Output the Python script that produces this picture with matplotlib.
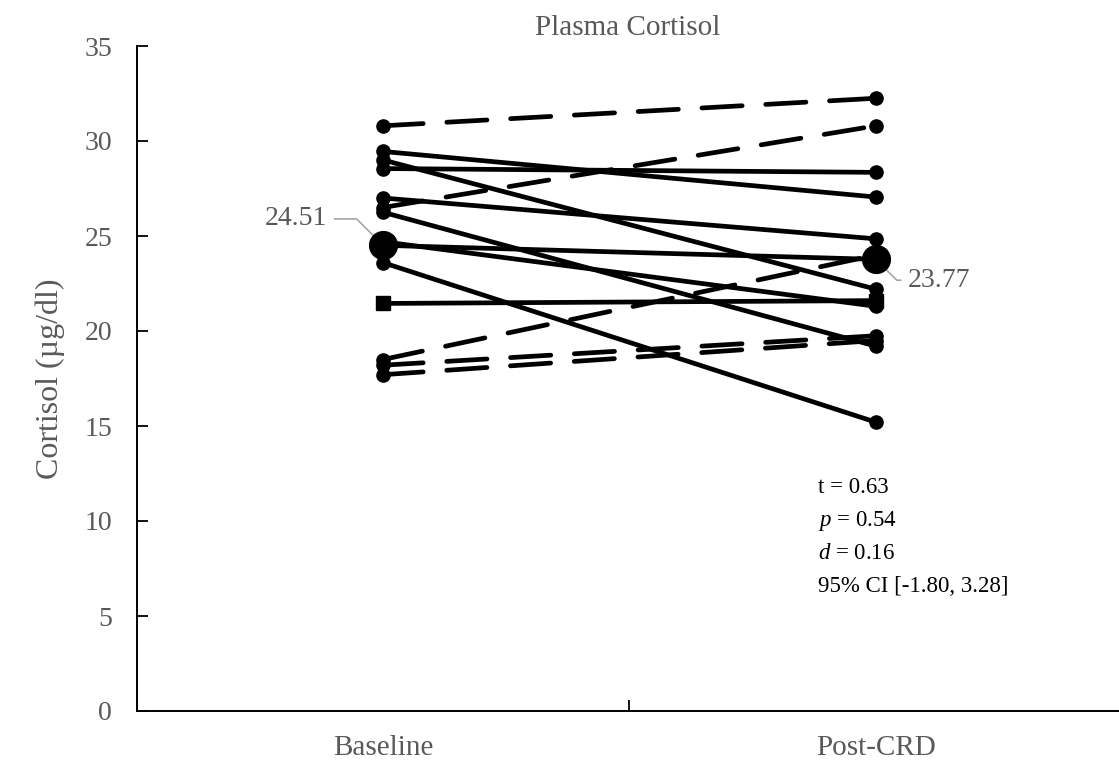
import matplotlib
matplotlib.use('Agg')
import matplotlib.pyplot as plt

# --- data ---
conditions = ['Baseline', 'Post-CRD']
baseline = [30.8, 26.5, 29.45, 28.55, 29.0, 27.0, 26.25, 24.7, 23.6, 21.45, 18.5, 18.2, 17.7]
post_crd = [32.25, 30.8, 27.05, 28.35, 22.2, 24.85, 19.2, 21.3, 15.2, 21.6, 24.0, 19.75, 19.5]
dashed = [True, True, False, False, False, False, False, False, False, False, True, True, True]
square = [False] * 9 + [True] + [False] * 3
group_means = [24.51, 23.77]
stats_lines = ['t = 0.63', r'$\it{p}$ = 0.54', r'$\it{d}$ = 0.16', '95% CI [-1.80, 3.28]']
y_ticks = [0, 5, 10, 15, 20, 25, 30, 35]

plt.rcParams['font.family'] = ['Liberation Serif', 'DejaVu Serif']
plt.rcParams['mathtext.fontset'] = 'custom'
plt.rcParams['mathtext.it'] = 'Liberation Serif:italic'
plt.rcParams['mathtext.rm'] = 'Liberation Serif'
plt.rcParams['lines.scale_dashes'] = False

GREY = '#595959'

fig = plt.figure(figsize=(11.19, 7.61), dpi=100)
ax = fig.add_axes([137 / 1119, 1 - 711 / 761, (1119 - 137) / 1119, (711 - 46) / 761])

x = [0, 1]
for b, p, d, sq in zip(baseline, post_crd, dashed, square):
    ax.plot(x, [b, p], color='black', lw=3.4,
            linestyle=(0, (29, 17)) if d else '-',
            dash_capstyle='round', solid_capstyle='round',
            marker='s' if sq else 'o', markersize=10 if sq else 9.5,
            zorder=3)

ax.plot(x, group_means, color='black', lw=3.4, marker='o', markersize=20,
        solid_capstyle='round', zorder=4)

# mean labels with leader lines
ax.annotate(f'{group_means[0]:.2f}', xy=(0, group_means[0]), xytext=(-40, 19),
            textcoords='offset points', ha='right', va='center', fontsize=20,
            color=GREY,
            arrowprops=dict(arrowstyle='-', color='#A6A6A6', lw=1.2,
                            shrinkA=3, shrinkB=0,
                            connectionstyle='angle,angleA=0,angleB=135,rad=0'))
ax.annotate(f'{group_means[1]:.2f}', xy=(1, group_means[1]), xytext=(23, -15),
            textcoords='offset points', ha='left', va='center', fontsize=20,
            color=GREY,
            arrowprops=dict(arrowstyle='-', color='#A6A6A6', lw=1.2,
                            shrinkA=3, shrinkB=0,
                            connectionstyle='angle,angleA=0,angleB=-45,rad=0'))

for i, line in enumerate(stats_lines):
    ax.text(0.882, 11.74 - i * 1.737, line, fontsize=16.5, color='black',
            ha='left', va='center')

ax.set_xlim(-0.499, 1.493)
ax.set_ylim(0, 35)
ax.set_yticks(y_ticks)
ax.tick_params(axis='y', direction='in', length=8, width=1.3, color='black',
               labelcolor=GREY, labelsize=20, pad=18)
ax.set_xticks([0.5])
ax.set_xticklabels([''])
ax.set_xticks(x, minor=True)
ax.set_xticklabels(conditions, minor=True)
ax.tick_params(axis='x', which='major', direction='in', length=8, width=1.3,
               color='black')
ax.tick_params(axis='x', which='minor', length=0, labelsize=21, colors=GREY,
               pad=17)
for side in ['top', 'right']:
    ax.spines[side].set_visible(False)
for side in ['left', 'bottom']:
    ax.spines[side].set_linewidth(1.4)
    ax.spines[side].set_color('black')

ax.set_ylabel('Cortisol (\u00b5g/dl)', fontsize=23, color=GREY, labelpad=14)
ax.set_title('Plasma Cortisol', fontsize=21, color=GREY, pad=8)

fig.savefig('out.png', dpi=100)
